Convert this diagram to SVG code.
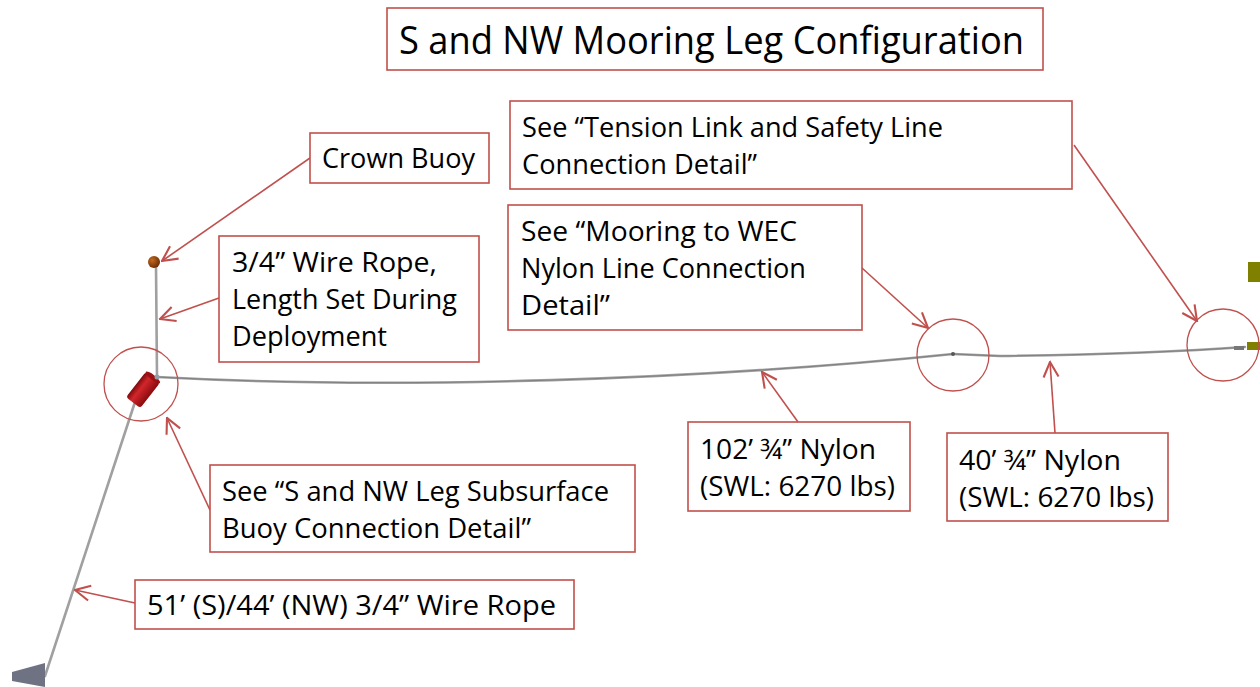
<svg xmlns="http://www.w3.org/2000/svg" width="1260" height="687" viewBox="0 0 1260 687">
  <defs>
    <style>
      .box { fill: #ffffff; stroke: #c0504d; stroke-width: 1.6; }
      .lbl { font-family: "Open Sans", "Noto Sans", "Liberation Sans", sans-serif; font-size: 28px; fill: #000000; }
      .ttl { font-family: "Open Sans", "Noto Sans", "Liberation Sans", sans-serif; font-size: 38px; fill: #000000; }
      .lead { fill: none; stroke: #c0504d; stroke-width: 1.6; marker-end: url(#openHead); }
      .ring { fill: none; stroke: #c0504d; stroke-width: 1.3; }
      .rope { fill: none; stroke: #a0a0a0; stroke-width: 2.6; stroke-linecap: round; }
      .core { fill: none; stroke: #808080; stroke-width: 1; }
    </style>
    <marker id="openHead" viewBox="0 0 12 12" refX="11" refY="6" markerWidth="18" markerHeight="18" markerUnits="userSpaceOnUse" orient="auto">
      <path d="M1,1 L11,6 L1,11" fill="none" stroke="#c0504d" stroke-width="1.4"/>
    </marker>
    <radialGradient id="crownGrad" cx="0.35" cy="0.35" r="0.7">
      <stop offset="0" stop-color="#c46a1e"/>
      <stop offset="1" stop-color="#6b2c05"/>
    </radialGradient>
    <linearGradient id="canGrad" x1="0" y1="0" x2="0" y2="1">
      <stop offset="0" stop-color="#7d0a0c"/>
      <stop offset="0.35" stop-color="#d2262b"/>
      <stop offset="1" stop-color="#8a0b0e"/>
    </linearGradient>
  </defs>

  <rect width="1260" height="687" fill="#ffffff"/>

  <!-- mooring hardware -->
  <g id="mooring">
    <!-- riser wire to crown buoy -->
    <line class="rope" x1="156" y1="266" x2="157" y2="377"/>
    <!-- anchor leg wire -->
    <line class="rope" x1="135" y1="402" x2="45" y2="676" stroke-width="2.2"/>
    <!-- nylon line to WEC -->
    <path class="rope" d="M157,377 C400,390 700,380 953,354"/>
    <path class="core" d="M157,377 C400,390 700,380 953,354"/>
    <path class="rope" d="M953,354 L1000,356 Q1150,354 1245,347"/>
    <path class="core" d="M953,354 L1000,356 Q1150,354 1245,347"/>
    <circle cx="953" cy="354" r="2" fill="#555"/>
    <!-- crown buoy -->
    <circle cx="154" cy="262" r="6" fill="url(#crownGrad)"/>
    <!-- subsurface buoy -->
    <g transform="translate(143,390) rotate(-52)">
      <rect x="-16" y="-9" width="32" height="18" rx="3" fill="url(#canGrad)"/>
      <ellipse cx="16" cy="0" rx="2.5" ry="9" fill="#9a1014"/>
    </g>
    <circle cx="157" cy="377" r="2.5" fill="#8fa0a8"/>
    <!-- anchor -->
    <polygon points="12,672 45,663 45,687 12,681" fill="#6f7282"/>
    <!-- WEC fittings -->
    <rect x="1248" y="262" width="12" height="20" fill="#7f7f00"/>
    <rect x="1247" y="342" width="13" height="8" fill="#7f7f00"/>
    <rect x="1234" y="346" width="10" height="4" fill="#777"/>
  </g>

  <!-- detail rings -->
  <g id="rings">
    <circle class="ring" cx="141" cy="384" r="37"/>
    <circle class="ring" cx="953" cy="355" r="36"/>
    <circle class="ring" cx="1223" cy="345" r="36"/>
  </g>

  <!-- leader arrows -->
  <g id="connectors">
    <line class="lead" x1="310" y1="158" x2="162" y2="261"/>
    <line class="lead" x1="219" y1="298" x2="160" y2="319"/>
    <line class="lead" x1="1074" y1="145" x2="1197" y2="321"/>
    <line class="lead" x1="862" y1="268" x2="928" y2="328"/>
    <line class="lead" x1="798" y1="422" x2="762" y2="372"/>
    <line class="lead" x1="1055" y1="433" x2="1050" y2="362"/>
    <line class="lead" x1="210" y1="510" x2="167" y2="418"/>
    <line class="lead" x1="135" y1="603" x2="75" y2="590"/>
  </g>

  <g id="title">
    <rect class="box" x="387" y="8" width="656" height="62"/>
    <text class="ttl" x="399" y="54" textLength="625" lengthAdjust="spacingAndGlyphs">S and NW Mooring Leg Configuration</text>
  </g>

  <g id="crown-buoy">
    <rect class="box" x="310" y="133" width="179" height="50"/>
    <text class="lbl" x="322" y="168" textLength="153" lengthAdjust="spacingAndGlyphs">Crown Buoy</text>
  </g>

  <g id="riser-wire">
    <rect class="box" x="219" y="236" width="260" height="126"/>
    <text class="lbl" x="232" y="272" textLength="205" lengthAdjust="spacingAndGlyphs">3/4” Wire Rope,</text>
    <text class="lbl" x="232" y="309" textLength="225" lengthAdjust="spacingAndGlyphs">Length Set During</text>
    <text class="lbl" x="232" y="346" textLength="155" lengthAdjust="spacingAndGlyphs">Deployment</text>
  </g>

  <g id="tension-link">
    <rect class="box" x="510" y="101" width="562" height="88"/>
    <text class="lbl" x="522" y="137" textLength="421" lengthAdjust="spacingAndGlyphs">See “Tension Link and Safety Line</text>
    <text class="lbl" x="522" y="174" textLength="235" lengthAdjust="spacingAndGlyphs">Connection Detail”</text>
  </g>

  <g id="wec-connection">
    <rect class="box" x="508" y="205" width="354" height="125"/>
    <text class="lbl" x="521" y="241" textLength="276" lengthAdjust="spacingAndGlyphs">See “Mooring to WEC</text>
    <text class="lbl" x="521" y="278" textLength="285" lengthAdjust="spacingAndGlyphs">Nylon Line Connection</text>
    <text class="lbl" x="521" y="315" textLength="89" lengthAdjust="spacingAndGlyphs">Detail”</text>
  </g>

  <g id="nylon-102">
    <rect class="box" x="688" y="422" width="222" height="89"/>
    <text class="lbl" x="700" y="459" textLength="176" lengthAdjust="spacingAndGlyphs">102’ ¾” Nylon</text>
    <text class="lbl" x="700" y="496" textLength="195" lengthAdjust="spacingAndGlyphs">(SWL: 6270 lbs)</text>
  </g>

  <g id="nylon-40">
    <rect class="box" x="947" y="433" width="221" height="88"/>
    <text class="lbl" x="959" y="470" textLength="162" lengthAdjust="spacingAndGlyphs">40’ ¾” Nylon</text>
    <text class="lbl" x="959" y="507" textLength="195" lengthAdjust="spacingAndGlyphs">(SWL: 6270 lbs)</text>
  </g>

  <g id="subsurface-buoy">
    <rect class="box" x="210" y="465" width="425" height="87"/>
    <text class="lbl" x="222" y="501" textLength="387" lengthAdjust="spacingAndGlyphs">See “S and NW Leg Subsurface</text>
    <text class="lbl" x="222" y="538" textLength="309" lengthAdjust="spacingAndGlyphs">Buoy Connection Detail”</text>
  </g>

  <g id="anchor-wire">
    <rect class="box" x="135" y="580" width="439" height="49"/>
    <text class="lbl" x="147" y="615" textLength="409" lengthAdjust="spacingAndGlyphs">51’ (S)/44’ (NW) 3/4” Wire Rope</text>
  </g>
</svg>
